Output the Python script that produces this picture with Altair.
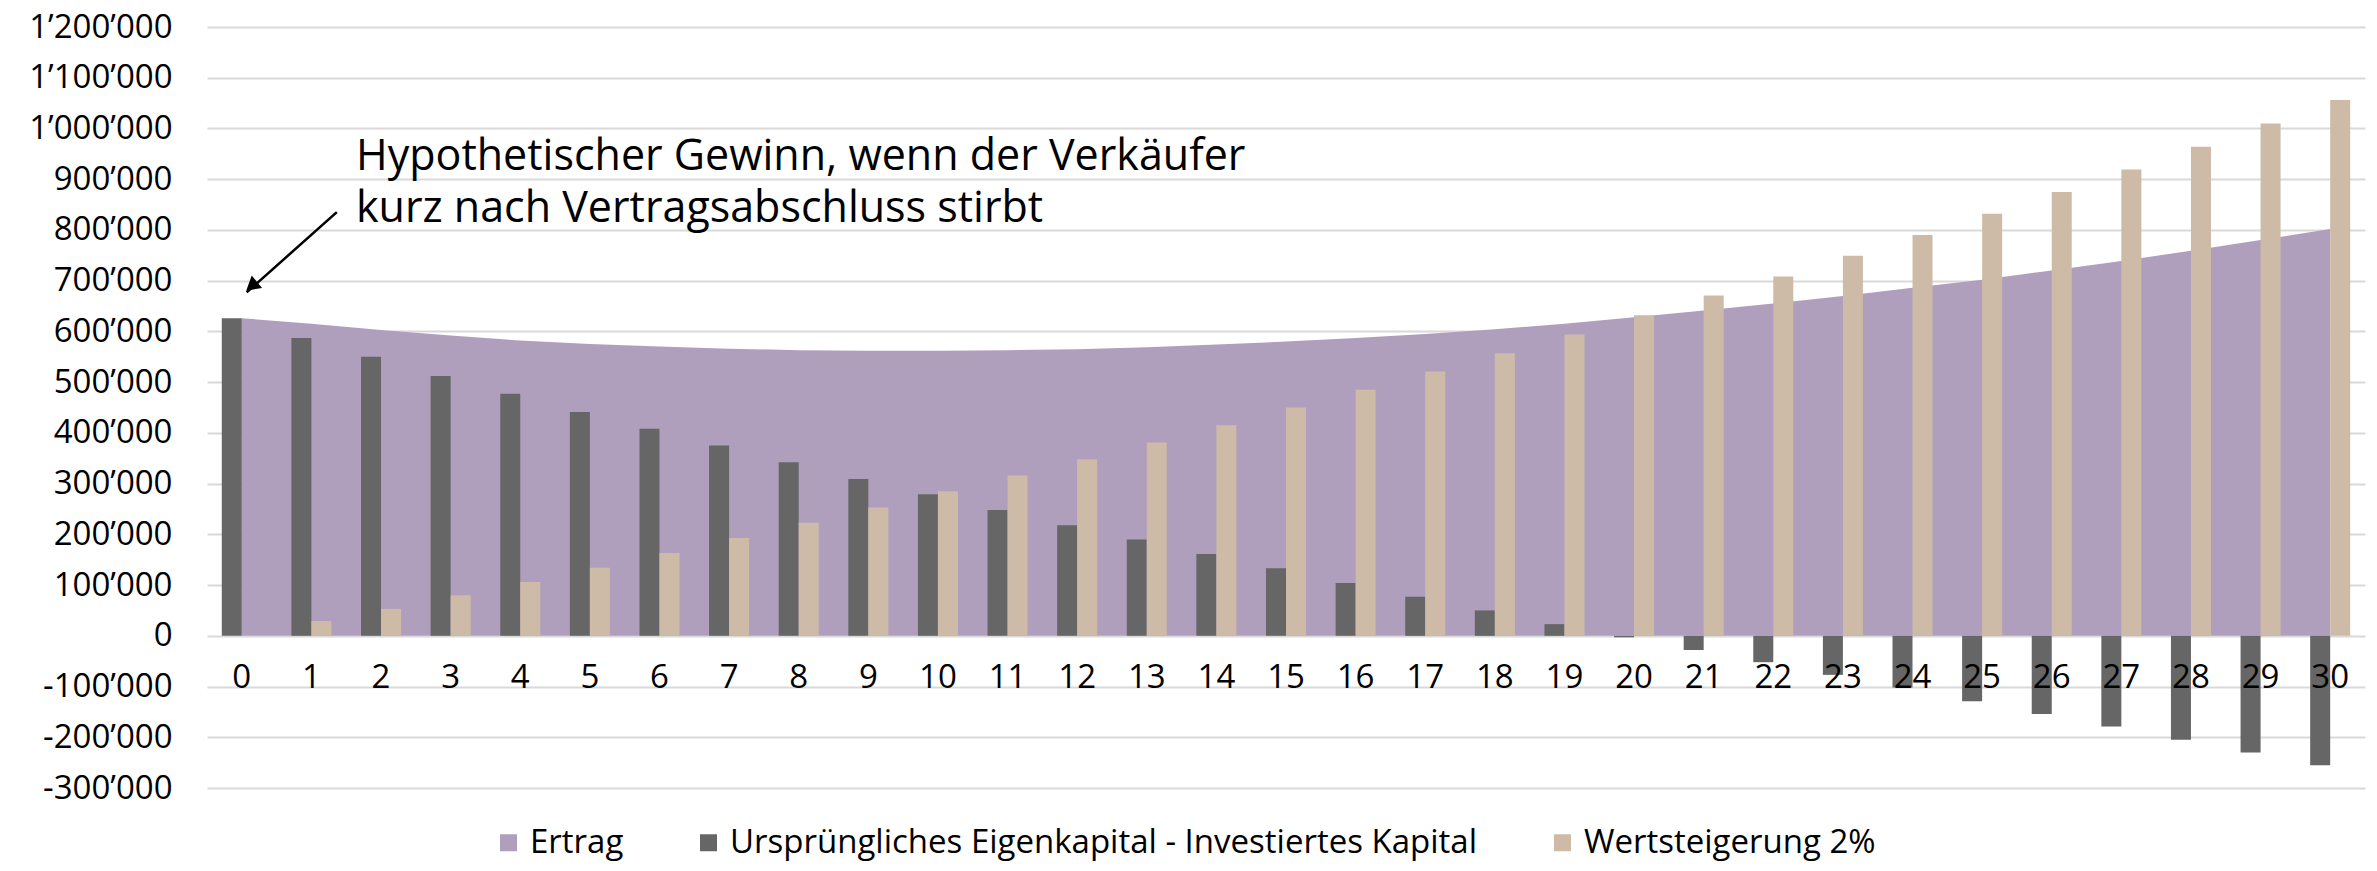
import altair as alt
import pandas as pd

FONT = "Open Sans"

years = list(range(31))

ertrag = [626000, 615000, 603000, 592000, 582000, 575000, 570000, 566000, 563000, 562000,
          562000, 563000, 565000, 569000, 574000, 580000, 587000, 595000, 604000, 615000,
          628000, 641000, 655000, 670000, 686000, 702000, 720000, 739000, 759000, 780000, 802000]

eigenkapital = [626000, 587000, 550000, 512000, 477000, 441000, 408000, 375000, 342000, 309000,
                279000, 248000, 218000, 190000, 161000, 133000, 104000, 77000, 50000, 23000,
                -3000, -28000, -52000, -77000, -102000, -129000, -154000, -179000, -205000, -230000, -255000]

wertsteigerung = [0, 29000, 53000, 80000, 106000, 134000, 163000, 193000, 223000, 253000,
                  285000, 316000, 348000, 381000, 415000, 450000, 485000, 521000, 557000, 594000,
                  632000, 671000, 708000, 749000, 790000, 832000, 875000, 919000, 964000, 1010000, 1056000]

series_names = ["Ertrag", "Ursprüngliches Eigenkapital - Investiertes Kapital", "Wertsteigerung 2%"]
series_colors = ["#AF9FBD", "#666666", "#CDBBA8"]

y_ticks = list(range(-300000, 1200001, 100000))

annotation_lines = ["Hypothetischer Gewinn, wenn der Verkäufer", "kurz nach Vertragsabschluss stirbt"]
annotation_pos_x = [1.64]
annotation_pos_y = [918000]
arrow_x = [1.365, 0.07]
arrow_y = [835000, 677000]
arrow_head_x = [0.14]
arrow_head_y = [689000]

area_df = pd.DataFrame({"Jahr": years, "Wert": ertrag, "Serie": series_names[0]})
bar_df = pd.concat([
    pd.DataFrame({"Jahr": years, "Wert": eigenkapital, "Serie": series_names[1]}),
    pd.DataFrame({"Jahr": years, "Wert": wertsteigerung, "Serie": series_names[2]}),
], ignore_index=True)
text_df = pd.DataFrame({"x": annotation_pos_x, "y": annotation_pos_y, "t": [annotation_lines]})
arrow_df = pd.DataFrame({"x": arrow_x, "y": arrow_y, "o": [0, 1]})
head_df = pd.DataFrame({"x": arrow_head_x, "y": arrow_head_y})

W, H = 2158, 761

yscale = alt.Scale(domain=[-300000, 1200000], nice=False)
xscale = alt.Scale(paddingInner=0.425, paddingOuter=0.2125)

yaxis = alt.Axis(
    values=y_ticks, title=None, domain=False, ticks=False, labelPadding=35,
    labelFont=FONT, labelFontSize=33, labelColor="#000000",
    gridColor="#d9d9d9", gridWidth=2,
    labelExpr="replace(replace(replace(format(datum.value, ','), ',', '’'), ',', '’'), '−', '-')",
)
xaxis = alt.Axis(
    title=None, labelAngle=0, domain=False, ticks=False, grid=False, zindex=1,
    offset=-152.5, labelPadding=26, labelFont=FONT, labelFontSize=33, labelColor="#000000",
)

color = alt.Color(
    "Serie:N",
    scale=alt.Scale(domain=series_names, range=series_colors),
    legend=alt.Legend(
        orient="none", legendX=285, legendY=799, direction="horizontal", title=None,
        symbolType="square", symbolSize=289, symbolStrokeWidth=0, symbolOpacity=1,
        labelFont=FONT, labelFontSize=33, labelColor="#000000", labelOffset=5,
        labelLimit=0, columnPadding=68,
    ),
)

area = alt.Chart(area_df).mark_area(opacity=1).encode(
    x=alt.X("Jahr:O", scale=xscale, axis=xaxis, bandPosition=0.5),
    y=alt.Y("Wert:Q", scale=yscale, axis=yaxis),
    color=color,
)

bars = alt.Chart(bar_df).mark_bar(opacity=1).encode(
    x=alt.X("Jahr:O", scale=xscale, axis=xaxis),
    xOffset=alt.XOffset("Serie:N", scale=alt.Scale(domain=series_names[1:], paddingInner=0, paddingOuter=0)),
    y=alt.Y("Wert:Q", scale=yscale, axis=yaxis),
    color=color,
)

ax = alt.Scale(domain=[-0.5, 30.5], nice=False, zero=False)

arrow = alt.Chart(arrow_df).mark_line(color="#000000", strokeWidth=2.5).encode(
    x=alt.X("x:Q", scale=ax, axis=None),
    y=alt.Y("y:Q", scale=yscale, axis=yaxis),
    order="o:Q",
)
head = alt.Chart(head_df).mark_point(shape="triangle-up", angle=230, filled=True, size=260,
                                     color="#000000", opacity=1).encode(
    x=alt.X("x:Q", scale=ax, axis=None),
    y=alt.Y("y:Q", scale=yscale, axis=yaxis),
)
text = alt.Chart(text_df).mark_text(align="left", baseline="alphabetic", font=FONT, fontSize=43,
                                    lineHeight=52, color="#000000").encode(
    x=alt.X("x:Q", scale=ax, axis=None),
    y=alt.Y("y:Q", scale=yscale, axis=yaxis),
    text="t",
)

chart = alt.layer(
    alt.layer(area, bars),
    alt.layer(arrow, head, text),
).resolve_scale(x="independent").properties(
    width=W, height=H,
    padding={"left": 199, "top": 19, "right": 4, "bottom": 75},
    autosize=alt.AutoSizeParams(type="none"),
    background="#ffffff",
).configure_view(stroke=None)

chart.save("out.html", embed_options={"renderer": "svg", "actions": False})
